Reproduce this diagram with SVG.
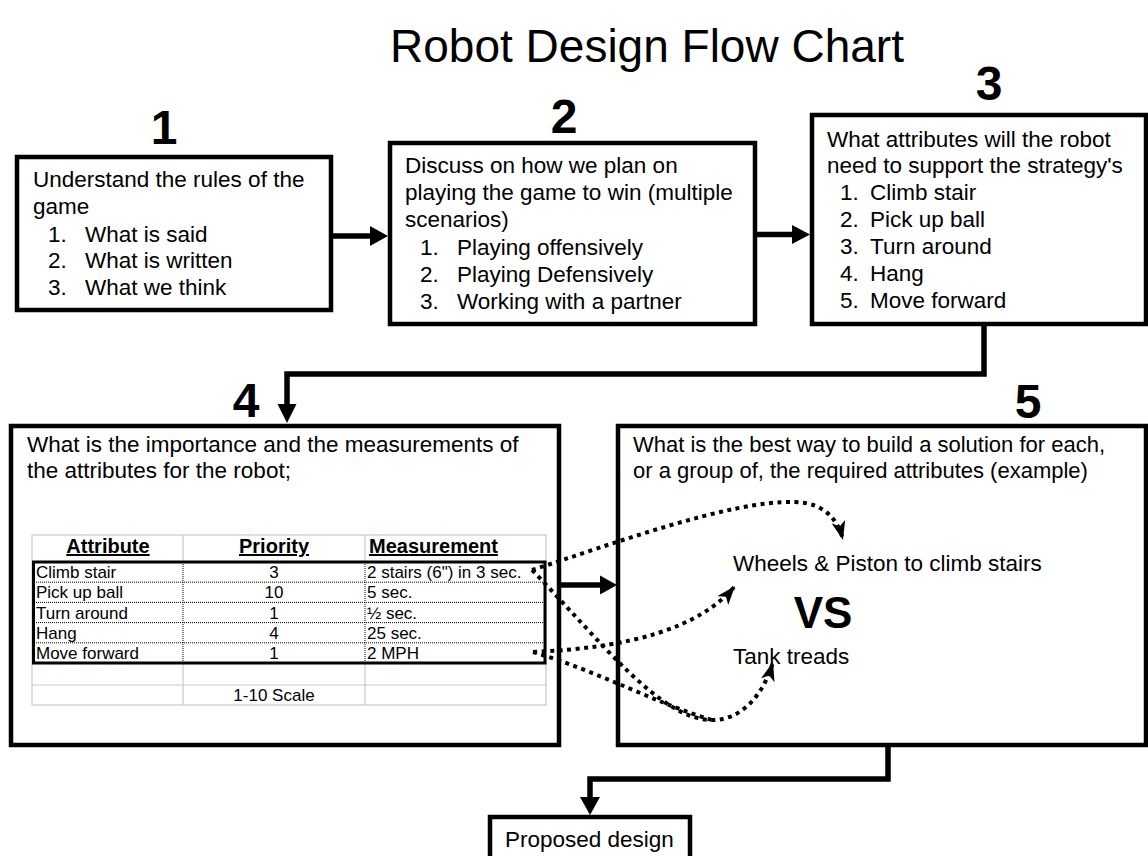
<svg xmlns="http://www.w3.org/2000/svg" width="1148" height="856" viewBox="0 0 1148 856">
<defs>
<marker id="dh" markerUnits="userSpaceOnUse" markerWidth="24" markerHeight="18" refX="19" refY="7" orient="auto"><path d="M0,0 L19,7 L0,14 L5,7 z" fill="#000"/></marker>
<style>
.t{font-family:"Liberation Sans",Arial,sans-serif;fill:#000}
.box{fill:#fff;stroke:#000;stroke-width:4.5}
.num{font-size:48px;font-weight:bold;text-anchor:middle}
.bt{font-size:22.5px}
.conn{fill:none;stroke:#000;stroke-width:5.5;stroke-linejoin:miter}
.head{fill:#000}
.dot{fill:none;stroke:#000;stroke-width:4;stroke-dasharray:4 4.5}
.tb{font-size:17px}
.th{font-size:20px;font-weight:bold;text-decoration:underline}
.g{stroke:#c8c8c8;stroke-width:1.2;fill:none}
.dl{stroke:#000;stroke-width:1;stroke-dasharray:1 1}
</style>
</defs>
<rect width="1148" height="856" fill="#fff"/>
<text class="t" x="647" y="62" font-size="46" text-anchor="middle">Robot Design Flow Chart</text>

<g id="box1">
<text class="t num" x="164" y="144">1</text>
<rect class="box" x="17" y="157" width="314" height="153"/>
<text class="t bt" x="33" y="187">Understand the rules of the</text>
<text class="t bt" x="33" y="214">game</text>
<text class="t bt" x="48" y="242">1.</text><text class="t bt" x="85" y="242">What is said</text>
<text class="t bt" x="48" y="268">2.</text><text class="t bt" x="85" y="268">What is written</text>
<text class="t bt" x="48" y="295">3.</text><text class="t bt" x="85" y="295">What we think</text>
</g>

<g id="box2">
<text class="t num" x="564" y="133">2</text>
<rect class="box" x="390" y="143" width="365" height="181"/>
<text class="t bt" x="405" y="173">Discuss on how we plan on</text>
<text class="t bt" x="405" y="200">playing the game to win (multiple</text>
<text class="t bt" x="405" y="227">scenarios)</text>
<text class="t bt" x="420" y="255">1.</text><text class="t bt" x="457" y="255">Playing offensively</text>
<text class="t bt" x="420" y="282">2.</text><text class="t bt" x="457" y="282">Playing Defensively</text>
<text class="t bt" x="420" y="309">3.</text><text class="t bt" x="457" y="309">Working with a partner</text>
</g>

<g id="box3">
<text class="t num" x="989" y="100">3</text>
<rect class="box" x="812" y="115" width="334" height="209"/>
<text class="t bt" x="827" y="147">What attributes will the robot</text>
<text class="t bt" x="827" y="173">need to support the strategy's</text>
<text class="t bt" x="840" y="200">1.</text><text class="t bt" x="870" y="200">Climb stair</text>
<text class="t bt" x="840" y="227">2.</text><text class="t bt" x="870" y="227">Pick up ball</text>
<text class="t bt" x="840" y="254">3.</text><text class="t bt" x="870" y="254">Turn around</text>
<text class="t bt" x="840" y="281">4.</text><text class="t bt" x="870" y="281">Hang</text>
<text class="t bt" x="840" y="308">5.</text><text class="t bt" x="870" y="308">Move forward</text>
</g>

<g id="box4">
<text class="t num" x="246" y="417">4</text>
<rect class="box" x="11" y="426" width="548" height="319"/>
<text class="t bt" x="27" y="452">What is the importance and the measurements of</text>
<text class="t bt" x="27" y="478">the attributes for the robot;</text>
<g id="table">
<rect class="g" x="32" y="535" width="514" height="170"/>
<line class="g" x1="183" y1="535" x2="183" y2="562"/>
<line class="g" x1="365" y1="535" x2="365" y2="562"/>
<line class="g" x1="32" y1="685" x2="546" y2="685"/>
<line class="g" x1="183" y1="663" x2="183" y2="705"/>
<line class="g" x1="365" y1="663" x2="365" y2="705"/>
<line class="dl" x1="34" y1="582.2" x2="545" y2="582.2"/>
<line class="dl" x1="34" y1="602.4" x2="545" y2="602.4"/>
<line class="dl" x1="34" y1="622.6" x2="545" y2="622.6"/>
<line class="dl" x1="34" y1="642.8" x2="545" y2="642.8"/>
<line class="dl" x1="183" y1="562" x2="183" y2="663"/>
<line class="dl" x1="365" y1="562" x2="365" y2="663"/>
<rect x="33.5" y="562" width="511.5" height="101" fill="none" stroke="#000" stroke-width="3"/>
<text class="t th" x="108" y="553" text-anchor="middle">Attribute</text>
<text class="t th" x="274" y="553" text-anchor="middle">Priority</text>
<text class="t th" x="369" y="553">Measurement</text>
<text class="t tb" x="36" y="578">Climb stair</text>
<text class="t tb" x="36" y="598">Pick up ball</text>
<text class="t tb" x="36" y="618.5">Turn around</text>
<text class="t tb" x="36" y="639">Hang</text>
<text class="t tb" x="36" y="659">Move forward</text>
<text class="t tb" x="274" y="578" text-anchor="middle">3</text>
<text class="t tb" x="274" y="598" text-anchor="middle">10</text>
<text class="t tb" x="274" y="618.5" text-anchor="middle">1</text>
<text class="t tb" x="274" y="639" text-anchor="middle">4</text>
<text class="t tb" x="274" y="659" text-anchor="middle">1</text>
<text class="t tb" x="367" y="578">2 stairs (6") in 3 sec.</text>
<text class="t tb" x="367" y="598">5 sec.</text>
<text class="t tb" x="367" y="618.5">½ sec.</text>
<text class="t tb" x="367" y="639">25 sec.</text>
<text class="t tb" x="367" y="659">2 MPH</text>
<text class="t tb" x="274" y="701" text-anchor="middle">1-10 Scale</text>
</g>
</g>

<g id="box5">
<text class="t num" x="1028" y="418">5</text>
<rect class="box" x="618" y="426" width="528" height="319"/>
<text class="t" x="633" y="452" font-size="22">What is the best way to build a solution for each,</text>
<text class="t" x="633" y="478" font-size="22">or a group of, the required attributes (example)</text>
<text class="t" x="733" y="571" font-size="22.5">Wheels &amp; Piston to climb stairs</text>
<text class="t" x="823" y="628" font-size="44" font-weight="bold" text-anchor="middle">VS</text>
<text class="t" x="733" y="664" font-size="22.5">Tank treads</text>
</g>

<g id="proposed">
<rect class="box" x="490" y="817" width="200" height="60"/>
<text class="t bt" x="505" y="847">Proposed design</text>
</g>

<g id="connectors">
<path class="conn" d="M331,236 H372"/>
<polygon class="head" points="370,226 388,236 370,246"/>
<path class="conn" d="M755,234.5 H794"/>
<polygon class="head" points="792,225 810,234.5 792,244"/>
<path class="conn" d="M984,326 V374 H287 V406"/>
<polygon class="head" points="277.5,404 296.5,404 287,423"/>
<path class="conn" d="M559,585 H602"/>
<polygon class="head" points="600,575.5 617,585 600,594.5"/>
<path class="conn" d="M888,747 V779 H590 V799"/>
<polygon class="head" points="580,797 600,797 590,815"/>
<path class="dot" d="M532,570 C610,545 730,500 795,502 C825,503 838,520 843,540" marker-end="url(#dh)"/>
<path class="dot" d="M533,652 C630,648 700,628 735,586" marker-end="url(#dh)"/>
<path class="dot" d="M532,570 C600,640 660,720 712,720 C745,720 765,690 773,662" marker-end="url(#dh)"/>
<path class="dot" d="M533,652 C600,672 660,705 712,720"/>
</g>
</svg>
